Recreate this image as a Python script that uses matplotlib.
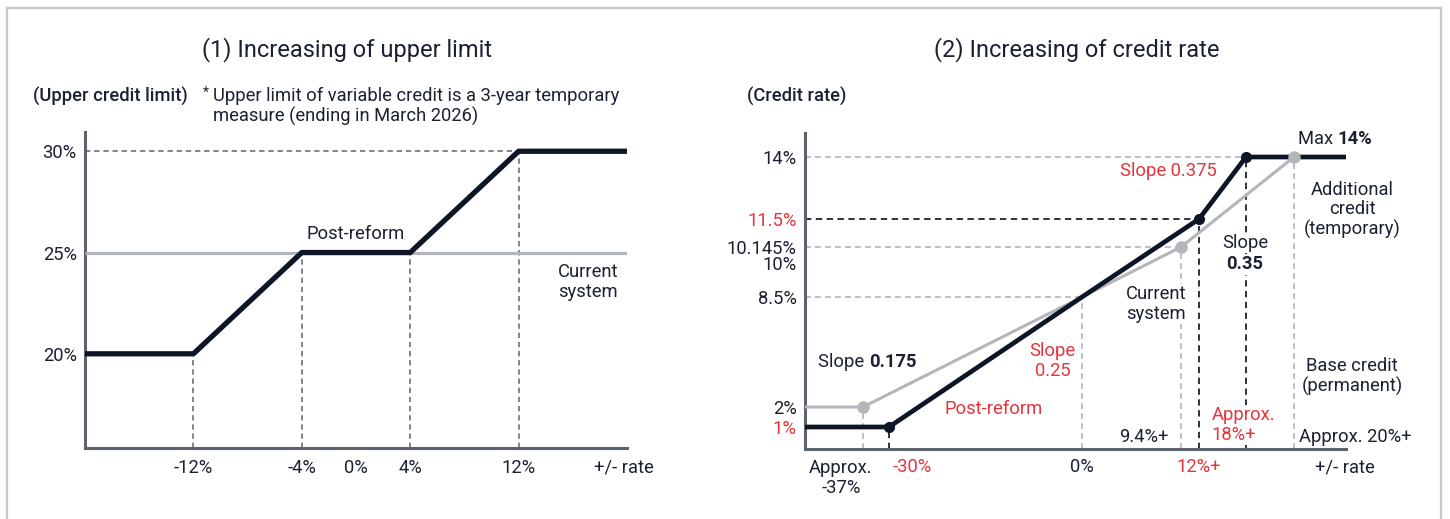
import numpy as np
import matplotlib
matplotlib.use("Agg")
import matplotlib.pyplot as plt
from matplotlib.patches import Rectangle

plt.rcParams['font.family'] = ['Roboto', 'DejaVu Sans']

# ---- data: (1) upper limit ----
lim_x = [-20, -12, -4, 4, 12, 20]
lim_post = [20, 20, 25, 25, 30, 30]
lim_cur_x = [-20, 20]
lim_cur = [25, 25]
lim_ticks = [-12, -4, 0, 4, 12]
lim_ticklabels = ['-12%', '-4%', '0%', '4%', '12%']
lim_yticks = [20, 25, 30]
lim_yticklabels = ['20%', '25%', '30%']

# ---- data: (2) credit rate ----
rate_post_x = [-50, -30, 0, 12, 18, 25]
rate_post = [1, 1, 8.5, 11.5, 14, 14]
rate_cur_x = [-50, -37, 0, 9.4, 20]
rate_cur = [2, 2, 8.5, 10.145, 14]
rate_yticks = [1, 2, 8.5, 10.145, 11.5, 14]
rate_yticklabels = ['1%', '2%', '8.5%', '10.145%', '11.5%', '14%']

NAVY = '#0d1626'
TXT = '#1b2130'
GRAY = '#b3b6ba'
RED = '#e5343c'
SPINE = '#5d636c'
DASH_D = '#5c6370'

fs = 13.2
fs_title = 17
ls_ = 1.12

fig = plt.figure(figsize=(14.5, 5.19), dpi=100)

# outer frame
fig.add_artist(Rectangle((7 / 1450, -0.05), 1434 / 1450, 1.05 - 8 / 519,
                         transform=fig.transFigure, fill=False,
                         edgecolor='#c4c7cb', lw=1.6))


def style_axes(ax):
    for s in ['top', 'right']:
        ax.spines[s].set_visible(False)
    for s in ['left', 'bottom']:
        ax.spines[s].set_color(SPINE)
        ax.spines[s].set_linewidth(2.2)
    ax.tick_params(length=0, labelsize=fs, colors=TXT)
    ax.tick_params(axis='y', pad=6)
    ax.tick_params(axis='x', pad=8)


# ================= chart 1 =================
ax1 = fig.add_axes([85 / 1450, (519 - 448) / 519, 542 / 1450, 316 / 519])
style_axes(ax1)
ax1.set_xlim(-20, 20)
ax1.set_ylim(15.35, 30.95)

ax1.plot(lim_cur_x, lim_cur, color=GRAY, lw=2.3, solid_capstyle='butt', zorder=3)
ax1.plot(lim_x, lim_post, color=NAVY, lw=3.8, solid_capstyle='butt', zorder=4)

y0 = ax1.get_ylim()[0]
for xv, yv in zip(lim_x[1:-1], lim_post[1:-1]):
    ax1.plot([xv, xv], [y0, yv], color=DASH_D, lw=1.1, ls=(0, (3.5, 2.5)), zorder=2)
ax1.plot([-20, lim_x[4]], [lim_post[4], lim_post[4]], color=DASH_D, lw=1.1,
         ls=(0, (3.5, 2.5)), zorder=2)

ax1.set_xticks(lim_ticks, lim_ticklabels)
ax1.set_yticks(lim_yticks, lim_yticklabels)

ax1.text(0, 25.9, 'Post-reform', ha='center', va='center', fontsize=fs, color=TXT)
ax1.text(17.1, 23.55, 'Current\nsystem', ha='center', va='center', fontsize=fs,
         color=TXT, linespacing=ls_)
ax1.annotate('+/- rate', xy=(1, 0), xycoords='axes fraction', xytext=(-3, -19),
             textcoords='offset pixels', ha='center', va='center', fontsize=fs, color=TXT)

fig.text(347 / 1450, 1 - 50 / 519, '(1) Increasing of upper limit', ha='center',
         va='center', fontsize=fs_title, color=TXT)
fig.text(33 / 1450, 1 - 96 / 519, '(Upper credit limit)', ha='left', va='center',
         fontsize=fs, color=TXT, fontweight='medium')
fig.text(203 / 1450, 1 - 93 / 519, '*', ha='left', va='center', fontsize=10, color=TXT)
fig.text(213 / 1450, 1 - 106 / 519,
         'Upper limit of variable credit is a 3-year temporary\nmeasure (ending in March 2026)',
         ha='left', va='center', fontsize=fs, color=TXT, linespacing=ls_)

# ================= chart 2 =================
xk_val = np.array([-50, -37, -30, 0, 9.4, 12, 18, 20, 25])
xk_pos = np.array([805, 863, 889, 1082, 1181, 1199, 1246, 1294, 1346], dtype=float)
yk_val = np.array([0, 1, 2, 8.5, 10.145, 11.5, 14, 15])
yk_pos = np.array([0, 22, 42, 152, 202, 230, 292, 316], dtype=float)


def xf(v):
    return np.interp(v, xk_val, xk_pos)


def xi(p):
    return np.interp(p, xk_pos, xk_val)


def yf(v):
    return np.interp(v, yk_val, yk_pos)


def yi(p):
    return np.interp(p, yk_pos, yk_val)


ax2 = fig.add_axes([805 / 1450, (519 - 449) / 519, 541 / 1450, 316 / 519])
ax2.set_xscale('function', functions=(xf, xi))
ax2.set_yscale('function', functions=(yf, yi))
style_axes(ax2)
ax2.set_xlim(-50, 25)
ax2.set_ylim(0, 15)
ax2.xaxis.set_minor_locator(matplotlib.ticker.NullLocator())
ax2.yaxis.set_minor_locator(matplotlib.ticker.NullLocator())

ax2.plot(rate_cur_x, rate_cur, color=GRAY, lw=2.2, solid_capstyle='butt', zorder=3)
ax2.plot(rate_post_x, rate_post, color=NAVY, lw=3.4, solid_capstyle='butt', zorder=4)
ax2.plot(rate_post_x, rate_post, ls='none', marker='o', ms=7, color=NAVY,
         markevery=[1, 3, 4], zorder=5)
ax2.plot(rate_cur_x, rate_cur, ls='none', marker='o', ms=8, color=GRAY,
         markevery=[1, 3, 4], zorder=5)

GRAY_DASH = dict(color='#b1b4b8', lw=1.2, ls=(0, (3.5, 2.5)), zorder=1)
DARK_DASH = dict(color=TXT, lw=1.3, ls=(0, (3.5, 2.5)), zorder=1)
# current system guides
for i in [1, 2, 3, 4]:
    ax2.plot([rate_cur_x[i], rate_cur_x[i]], [0, rate_cur[i]], **GRAY_DASH)
for i in [2, 3, 4]:
    ax2.plot([-50, rate_cur_x[i]], [rate_cur[i], rate_cur[i]], **GRAY_DASH)
# post-reform guides
for i in [1, 3, 4]:
    ax2.plot([rate_post_x[i], rate_post_x[i]], [0, rate_post[i]], **DARK_DASH)
ax2.plot([-50, rate_post_x[3]], [rate_post[3], rate_post[3]], **DARK_DASH)

ax2.set_xticks([])
ax2.set_yticks(rate_yticks, rate_yticklabels)
for lab, v in zip(ax2.get_yticklabels(), rate_yticks):
    if v in (1, 11.5):
        lab.set_color(RED)
ax2.annotate('10%', xy=(0, 10.145), xycoords=('axes fraction', 'data'),
             xytext=(-8, -18), textcoords='offset pixels', ha='right', va='center',
             fontsize=fs, color=TXT)

# x labels
xl = dict(xycoords=('data', 'axes fraction'), textcoords='offset pixels',
          ha='center', va='center', fontsize=fs)
ax2.annotate('Approx.\n-37%', xy=(-37, 0), xytext=(-22, -29), color=TXT,
             linespacing=ls_, **xl)
ax2.annotate('-30%', xy=(-30, 0), xytext=(23, -18), color=RED, **xl)
ax2.annotate('0%', xy=(0, 0), xytext=(0, -18), color=TXT, **xl)
ax2.annotate('12%+', xy=(12, 0), xytext=(0, -18), color=RED, **xl)
ax2.annotate('+/- rate', xy=(1, 0), xycoords='axes fraction', xytext=(-1, -18),
             textcoords='offset pixels', ha='center', va='center', fontsize=fs, color=TXT)

wb = dict(facecolor='white', edgecolor='none', pad=1.0)
t = ax2.text(0.985, 0.981, 'Max ', transform=ax2.transAxes, ha='right', va='center',
             fontsize=fs, color=TXT)
ax2.annotate('14%', xy=(1, 0.5), xycoords=t, ha='left', va='center', fontsize=fs,
             color=TXT, fontweight='bold')
t = ax2.text(0.118, 0.275, 'Slope ', transform=ax2.transAxes, ha='right', va='center',
             fontsize=fs, color=TXT)
ax2.annotate('0.175', xy=(1, 0.5), xycoords=t, ha='left', va='center', fontsize=fs,
             color=TXT, fontweight='bold')
ax2.text(0.813, 0.652, 'Slope', transform=ax2.transAxes, ha='center', va='center',
         fontsize=fs, color=TXT, bbox=wb, zorder=2)
ax2.text(0.813, 0.585, '0.35', transform=ax2.transAxes, ha='center', va='center',
         fontsize=fs, color=TXT, fontweight='bold', bbox=wb, zorder=2)
ax2.text(0.671, 0.880, 'Slope 0.375', transform=ax2.transAxes, ha='center', va='center',
         fontsize=fs, color=RED)
ax2.text(0.458, 0.278, 'Slope\n0.25', transform=ax2.transAxes, ha='center', va='center',
         fontsize=fs, color=RED, linespacing=ls_)
ax2.text(0.349, 0.127, 'Post-reform', transform=ax2.transAxes, ha='center', va='center',
         fontsize=fs, color=RED)
ax2.text(0.649, 0.459, 'Current\nsystem', transform=ax2.transAxes, ha='center',
         va='center', fontsize=fs, color=TXT, linespacing=ls_, bbox=wb, zorder=2)
ax2.text(0.673, 0.038, '9.4%+', transform=ax2.transAxes, ha='right', va='center',
         fontsize=fs, color=TXT)
ax2.text(0.752, 0.076, 'Approx.\n18%+', transform=ax2.transAxes, ha='left',
         va='center', fontsize=fs, color=RED, linespacing=ls_, bbox=wb, zorder=2)
ax2.text(1.011, 0.756, 'Additional\ncredit\n(temporary)', transform=ax2.transAxes,
         ha='center', va='center', fontsize=fs, color=TXT, linespacing=ls_)
ax2.text(1.011, 0.228, 'Base credit\n(permanent)', transform=ax2.transAxes,
         ha='center', va='center', fontsize=fs, color=TXT, linespacing=ls_)
ax2.text(0.913, 0.038, 'Approx. 20%+', transform=ax2.transAxes, ha='left',
         va='center', fontsize=fs, color=TXT)

fig.text(1077 / 1450, 1 - 50 / 519, '(2) Increasing of credit rate', ha='center',
         va='center', fontsize=fs_title, color=TXT)
fig.text(747 / 1450, 1 - 96 / 519, '(Credit rate)', ha='left', va='center',
         fontsize=fs, color=TXT, fontweight='medium')

fig.savefig('out.png', dpi=100, facecolor='white')
